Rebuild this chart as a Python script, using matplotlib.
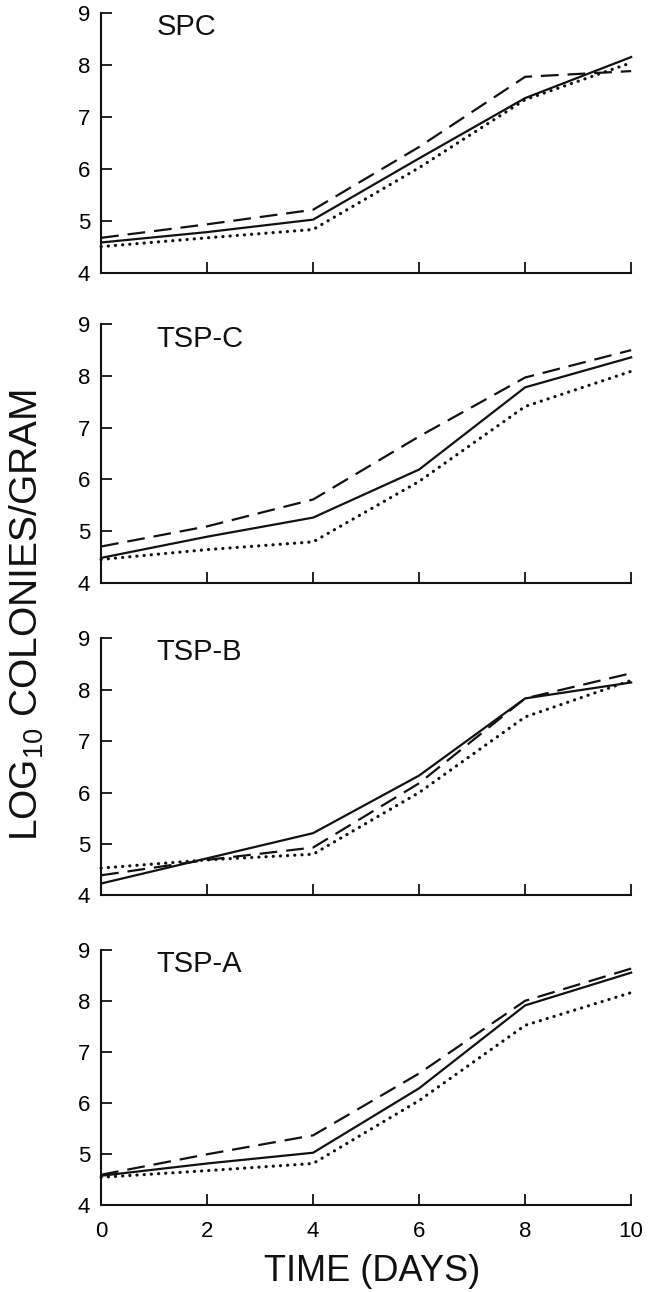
import matplotlib
matplotlib.use('Agg')
import matplotlib.pyplot as plt

plt.rcParams['font.family'] = ['Liberation Sans', 'DejaVu Sans']
plt.rcParams['mathtext.default'] = 'regular'
plt.rcParams['xtick.direction'] = 'in'
plt.rcParams['ytick.direction'] = 'in'

days = [0, 2, 4, 6, 8, 10]
panels = ['SPC', 'TSP-C', 'TSP-B', 'TSP-A']

# log10 colonies/gram
solid = [
    [4.58, 4.78, 5.02, 6.20, 7.36, 8.15],
    [4.48, 4.89, 5.26, 6.19, 7.78, 8.36],
    [4.23, 4.72, 5.21, 6.33, 7.83, 8.14],
    [4.58, 4.82, 5.03, 6.29, 7.91, 8.55],
]
dashed = [
    [4.67, 4.93, 5.21, 6.42, 7.77, 7.88],
    [4.70, 5.09, 5.61, 6.83, 7.97, 8.50],
    [4.39, 4.69, 4.93, 6.18, 7.83, 8.32],
    [4.60, 5.00, 5.37, 6.58, 8.00, 8.63],
]
dotted = [
    [4.50, 4.67, 4.83, 6.02, 7.33, 8.04],
    [4.45, 4.64, 4.79, 5.96, 7.41, 8.09],
    [4.53, 4.69, 4.80, 6.00, 7.47, 8.18],
    [4.55, 4.68, 4.82, 6.05, 7.52, 8.16],
]

fig = plt.figure(figsize=(6.48, 12.92), dpi=100)

# axes boxes (left, bottom, width, height) in figure fractions
boxes = [
    [0.156, 0.789, 0.818, 0.201],
    [0.156, 0.549, 0.818, 0.200],
    [0.156, 0.307, 0.818, 0.199],
    [0.156, 0.067, 0.818, 0.198],
]

ink = '#111111'
for i in range(4):
    ax = fig.add_axes(boxes[i])
    ax.plot(days, solid[i], '-', color=ink, lw=1.6, clip_on=False)
    ax.plot(days, dashed[i], color=ink, lw=1.6, linestyle=(0, (8, 4)), clip_on=False)
    ax.plot(days, dotted[i], color=ink, lw=2.3, linestyle=(0, (0.05, 2.2)),
            dash_capstyle='round', clip_on=False)
    ax.set_xlim(0, 10)
    ax.set_ylim(4, 9)
    ax.set_xticks([0, 2, 4, 6, 8, 10])
    ax.set_yticks([4, 5, 6, 7, 8, 9])
    for s in ['top', 'right']:
        ax.spines[s].set_visible(False)
    for s in ['left', 'bottom']:
        ax.spines[s].set_linewidth(1.5)
        ax.spines[s].set_color(ink)
    ax.tick_params(which='both', direction='in', length=8, width=1.3, color=ink,
                   labelsize=16, pad=8)
    if i < 3:
        ax.tick_params(axis='x', labelbottom=False)
    else:
        ax.tick_params(axis='x', pad=11)
    ax.text(1.05, 8.57, panels[i], fontsize=21, color=ink, va='baseline')

fig.text(0.042, 0.524, 'LOG$_{10}$ COLONIES/GRAM', rotation=90, fontsize=28,
         ha='center', va='center', color=ink)
fig.text(0.574, 0.0155, 'TIME (DAYS)', fontsize=26, ha='center', va='center', color=ink)

fig.savefig('out.png', dpi=100)
